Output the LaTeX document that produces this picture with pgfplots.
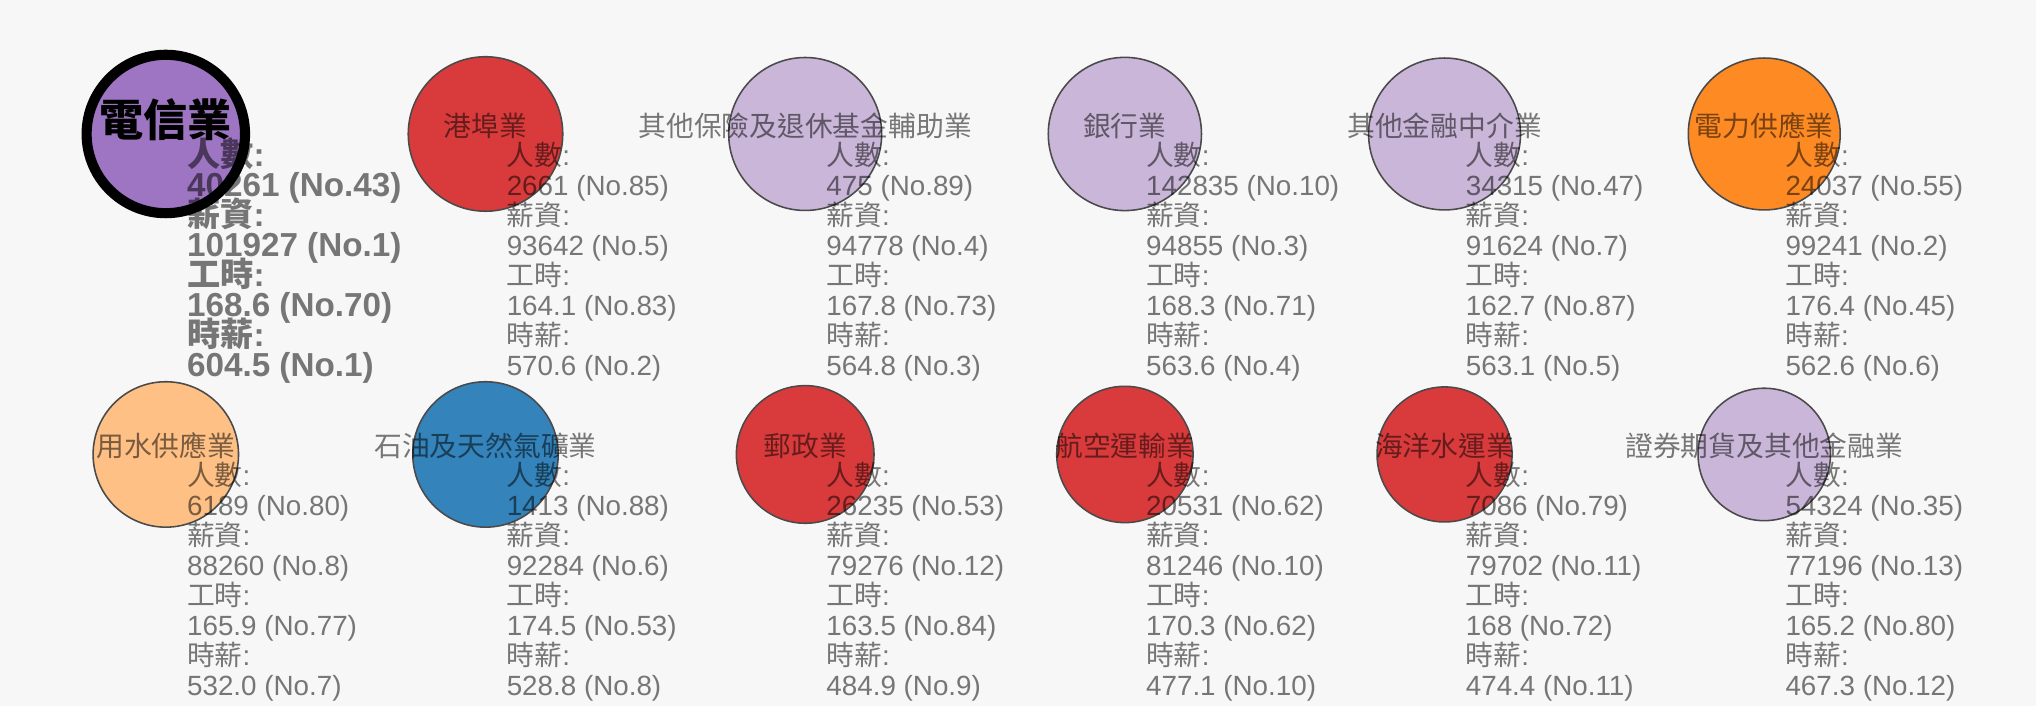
\documentclass[border=0pt]{standalone}
\usepackage{fontspec}
\setmainfont{Liberation Sans}
\newfontfamily\cjk{Noto Sans CJK TC}
\usepackage{pgfplots}
\usepackage{pgfplotstable}
\pgfplotsset{compat=1.18}
\definecolor{bgcol}{HTML}{F7F7F7}
\definecolor{cpurple}{HTML}{9467BD}
\definecolor{cred}{HTML}{D62728}
\definecolor{clpurple}{HTML}{C5B0D5}
\definecolor{corange}{HTML}{FF7F0E}
\definecolor{clorange}{HTML}{FFBB78}
\definecolor{cblue}{HTML}{1F77B4}
\definecolor{edgecol}{HTML}{4A4A4A}

% circle centres (px of a 1568x544 canvas) and radius (pt)
\pgfplotstableread{
x y r
127.7 440.8 30.5
}\tabpurple
\pgfplotstableread{
x y r
373.9 440.8 29.75
620.1 194.0 26.5
866.3 194.0 26.25
1112.5 194.0 26.0
}\tabred
\pgfplotstableread{
x y r
620.1 440.8 29.45
866.3 440.8 29.5
1112.5 440.8 29.25
1358.7 194.0 25.5
}\tablpurple
\pgfplotstableread{
x y r
1358.7 440.8 29.25
}\taborange
\pgfplotstableread{
x y r
127.7 194.0 28.0
}\tablorange
\pgfplotstableread{
x y r
373.9 194.0 28.0
}\tabblue

\tikzset{txt/.style={text=black, text opacity=0.52, inner sep=0pt, font=\fontsize{10.7}{12}\selectfont}}

\newcommand{\blk}[6]{%
 \node[txt, anchor=base, yshift=-0.8pt] at (#1) {\cjk #2};
 \node[txt, anchor=base west, xshift=8pt, yshift=-12.1pt] at (#1) {{\cjk 人數}:};
 \node[txt, anchor=base west, xshift=8pt, yshift=-23.65pt] at (#1) {#3};
 \node[txt, anchor=base west, xshift=8pt, yshift=-35.2pt] at (#1) {{\cjk 薪資}:};
 \node[txt, anchor=base west, xshift=8pt, yshift=-46.75pt] at (#1) {#4};
 \node[txt, anchor=base west, xshift=8pt, yshift=-58.3pt] at (#1) {{\cjk 工時}:};
 \node[txt, anchor=base west, xshift=8pt, yshift=-69.85pt] at (#1) {#5};
 \node[txt, anchor=base west, xshift=8pt, yshift=-81.4pt] at (#1) {{\cjk 時薪}:};
 \node[txt, anchor=base west, xshift=8pt, yshift=-92.95pt] at (#1) {#6};
}
\tikzset{btxt/.style={txt, font=\fontsize{12.8}{14}\selectfont\bfseries, anchor=base west, xshift=8pt}}
\newcommand{\blkb}[6]{%
 \node[inner sep=0pt, anchor=base, yshift=-0.9pt, font=\fontsize{17}{18}\selectfont\bfseries] at (#1) {\cjk #2};
 \node[btxt, yshift=-12.6pt] at (#1) {{\cjk 人數}:};
 \node[btxt, yshift=-23.9pt] at (#1) {#3};
 \node[btxt, yshift=-35.6pt] at (#1) {{\cjk 薪資}:};
 \node[btxt, yshift=-47.1pt] at (#1) {#4};
 \node[btxt, yshift=-58.7pt] at (#1) {{\cjk 工時}:};
 \node[btxt, yshift=-70.2pt] at (#1) {#5};
 \node[btxt, yshift=-81.8pt] at (#1) {{\cjk 時薪}:};
 \node[btxt, yshift=-93.3pt] at (#1) {#6};
}

\pgfplotsset{bubsize/.style={
  visualization depends on={\thisrow{r}\as\rad},
  scatter/@pre marker code/.append style={/tikz/mark size=\rad}}}

\begin{document}
\begin{tikzpicture}
\fill[bgcol] (0,0) rectangle (784pt,272pt);
\begin{axis}[
  at={(0,0)}, anchor=south west,
  scale only axis, width=784pt, height=272pt,
  xmin=0, xmax=1568, ymin=0, ymax=544,
  hide axis, clip=false,
]
\addplot[scatter, only marks, mark=*, scatter/use mapped color={draw=black, fill=cpurple, fill opacity=0.9, line width=3.9pt}, bubsize] table {\tabpurple};
\addplot[scatter, only marks, mark=*, scatter/use mapped color={draw=edgecol, fill=cred, fill opacity=0.9, line width=0.6pt}, bubsize] table {\tabred};
\addplot[scatter, only marks, mark=*, scatter/use mapped color={draw=edgecol, fill=clpurple, fill opacity=0.9, line width=0.6pt}, bubsize] table {\tablpurple};
\addplot[scatter, only marks, mark=*, scatter/use mapped color={draw=edgecol, fill=corange, fill opacity=0.9, line width=0.6pt}, bubsize] table {\taborange};
\addplot[scatter, only marks, mark=*, scatter/use mapped color={draw=edgecol, fill=clorange, fill opacity=0.9, line width=0.6pt}, bubsize] table {\tablorange};
\addplot[scatter, only marks, mark=*, scatter/use mapped color={draw=edgecol, fill=cblue, fill opacity=0.9, line width=0.6pt}, bubsize] table {\tabblue};
\coordinate (p1) at (axis cs:127.7,440.8);
\coordinate (p2) at (axis cs:373.9,440.8);
\coordinate (p3) at (axis cs:620.1,440.8);
\coordinate (p4) at (axis cs:866.3,440.8);
\coordinate (p5) at (axis cs:1112.5,440.8);
\coordinate (p6) at (axis cs:1358.7,440.8);
\coordinate (q1) at (axis cs:127.7,194.0);
\coordinate (q2) at (axis cs:373.9,194.0);
\coordinate (q3) at (axis cs:620.1,194.0);
\coordinate (q4) at (axis cs:866.3,194.0);
\coordinate (q5) at (axis cs:1112.5,194.0);
\coordinate (q6) at (axis cs:1358.7,194.0);
\end{axis}
\blkb{p1}{電信業}{40261 (No.43)}{101927 (No.1)}{168.6 (No.70)}{604.5 (No.1)}
\blk{p2}{港埠業}{2661 (No.85)}{93642 (No.5)}{164.1 (No.83)}{570.6 (No.2)}
\blk{p3}{其他保險及退休基金輔助業}{475 (No.89)}{94778 (No.4)}{167.8 (No.73)}{564.8 (No.3)}
\blk{p4}{銀行業}{142835 (No.10)}{94855 (No.3)}{168.3 (No.71)}{563.6 (No.4)}
\blk{p5}{其他金融中介業}{34315 (No.47)}{91624 (No.7)}{162.7 (No.87)}{563.1 (No.5)}
\blk{p6}{電力供應業}{24037 (No.55)}{99241 (No.2)}{176.4 (No.45)}{562.6 (No.6)}
\blk{q1}{用水供應業}{6189 (No.80)}{88260 (No.8)}{165.9 (No.77)}{532.0 (No.7)}
\blk{q2}{石油及天然氣礦業}{1413 (No.88)}{92284 (No.6)}{174.5 (No.53)}{528.8 (No.8)}
\blk{q3}{郵政業}{26235 (No.53)}{79276 (No.12)}{163.5 (No.84)}{484.9 (No.9)}
\blk{q4}{航空運輸業}{20531 (No.62)}{81246 (No.10)}{170.3 (No.62)}{477.1 (No.10)}
\blk{q5}{海洋水運業}{7086 (No.79)}{79702 (No.11)}{168 (No.72)}{474.4 (No.11)}
\blk{q6}{證券期貨及其他金融業}{54324 (No.35)}{77196 (No.13)}{165.2 (No.80)}{467.3 (No.12)}
\pgfresetboundingbox
\path (0,0) rectangle (784pt,272pt);
\end{tikzpicture}
\end{document}
